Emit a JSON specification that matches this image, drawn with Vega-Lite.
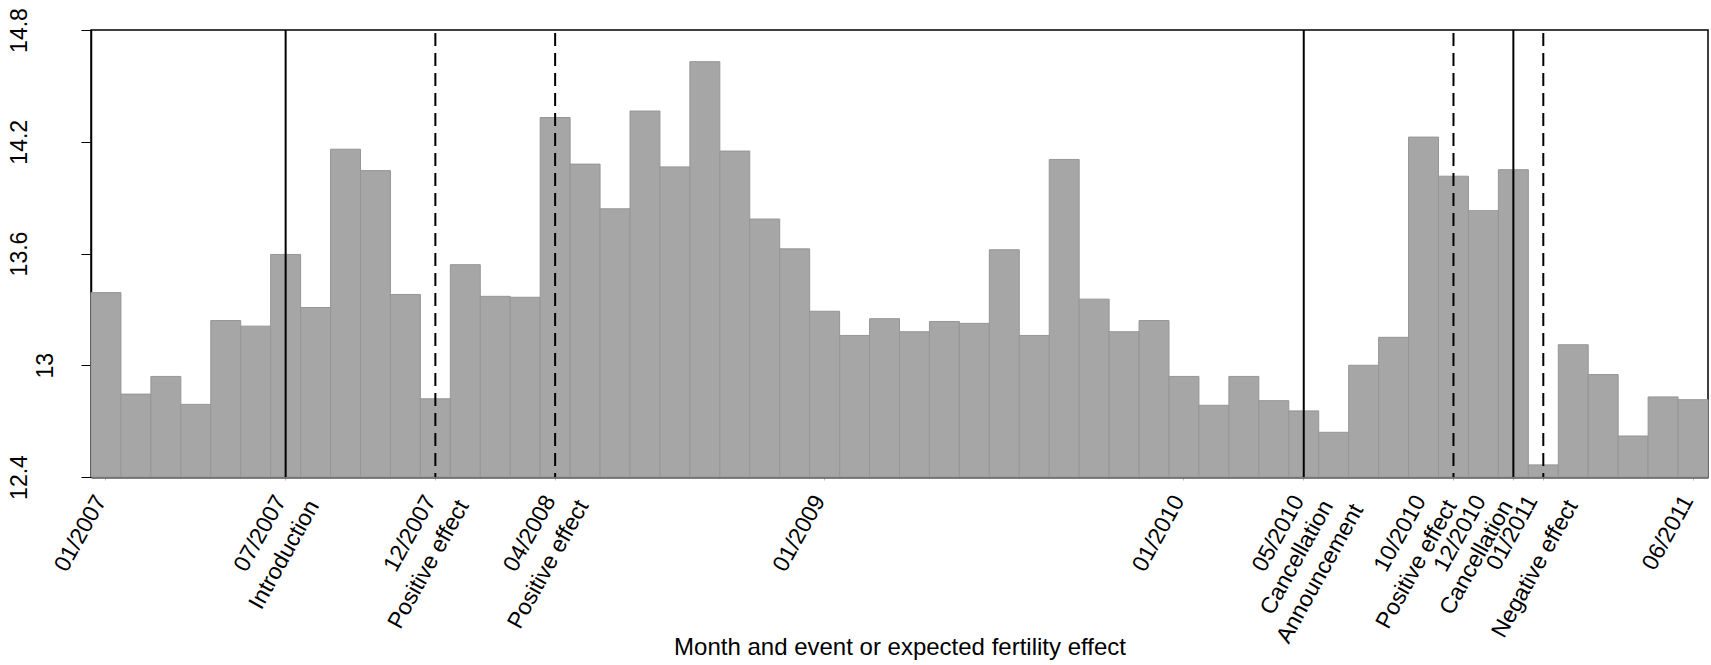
{
  "$schema": "https://vega.github.io/schema/vega-lite/v6.json",
  "width": 1617,
  "height": 447,
  "autosize": {"type": "none"},
  "padding": {"left": 91, "top": 30, "right": 3, "bottom": 188},
  "config": {
    "font": "Liberation Sans",
    "view": {"stroke": "#000000", "strokeWidth": 1.5},
    "axis": {"grid": false, "labelColor": "#000000", "titleColor": "#000000", "labelFont": "Liberation Sans", "titleFont": "Liberation Sans"}
  },
  "resolve": {"axis": {"x": "independent"}},
  "datasets": {
    "births": [
      {"month": "2007-01", "value": 13.39},
      {"month": "2007-02", "value": 12.845},
      {"month": "2007-03", "value": 12.94},
      {"month": "2007-04", "value": 12.79},
      {"month": "2007-05", "value": 13.24},
      {"month": "2007-06", "value": 13.21},
      {"month": "2007-07", "value": 13.595},
      {"month": "2007-08", "value": 13.31},
      {"month": "2007-09", "value": 14.16},
      {"month": "2007-10", "value": 14.045},
      {"month": "2007-11", "value": 13.38},
      {"month": "2007-12", "value": 12.82},
      {"month": "2008-01", "value": 13.54},
      {"month": "2008-02", "value": 13.37},
      {"month": "2008-03", "value": 13.365},
      {"month": "2008-04", "value": 14.33},
      {"month": "2008-05", "value": 14.08},
      {"month": "2008-06", "value": 13.84},
      {"month": "2008-07", "value": 14.365},
      {"month": "2008-08", "value": 14.065},
      {"month": "2008-09", "value": 14.63},
      {"month": "2008-10", "value": 14.15},
      {"month": "2008-11", "value": 13.785},
      {"month": "2008-12", "value": 13.625},
      {"month": "2009-01", "value": 13.29},
      {"month": "2009-02", "value": 13.16},
      {"month": "2009-03", "value": 13.25},
      {"month": "2009-04", "value": 13.18},
      {"month": "2009-05", "value": 13.235},
      {"month": "2009-06", "value": 13.225},
      {"month": "2009-07", "value": 13.62},
      {"month": "2009-08", "value": 13.16},
      {"month": "2009-09", "value": 14.105},
      {"month": "2009-10", "value": 13.355},
      {"month": "2009-11", "value": 13.18},
      {"month": "2009-12", "value": 13.24},
      {"month": "2010-01", "value": 12.94},
      {"month": "2010-02", "value": 12.785},
      {"month": "2010-03", "value": 12.94},
      {"month": "2010-04", "value": 12.81},
      {"month": "2010-05", "value": 12.755},
      {"month": "2010-06", "value": 12.64},
      {"month": "2010-07", "value": 13.0},
      {"month": "2010-08", "value": 13.15},
      {"month": "2010-09", "value": 14.225},
      {"month": "2010-10", "value": 14.015},
      {"month": "2010-11", "value": 13.83},
      {"month": "2010-12", "value": 14.05},
      {"month": "2011-01", "value": 12.465},
      {"month": "2011-02", "value": 13.11},
      {"month": "2011-03", "value": 12.95},
      {"month": "2011-04", "value": 12.62},
      {"month": "2011-05", "value": 12.83},
      {"month": "2011-06", "value": 12.815}
    ],
    "events": [
      {"month": "2007-07", "kind": "solid"},
      {"month": "2007-12", "kind": "dashed"},
      {"month": "2008-04", "kind": "dashed"},
      {"month": "2010-05", "kind": "solid"},
      {"month": "2010-10", "kind": "dashed"},
      {"month": "2010-12", "kind": "solid"},
      {"month": "2011-01", "kind": "dashed"}
    ]
  },
  "layer": [
    {
      "data": {"name": "births"},
      "mark": {"type": "bar", "fill": "#a6a6a6", "stroke": "#969696", "strokeWidth": 1},
      "encoding": {
        "x": {
          "field": "month",
          "type": "ordinal",
          "scale": {"paddingInner": 0, "paddingOuter": 0},
          "axis": {
            "orient": "bottom",
            "title": "Month and event or expected fertility effect",
            "titleFontSize": 24,
            "titleFontWeight": "normal",
            "titleY": 177,
            "titleBaseline": "alphabetic",
            "values": ["2007-01", "2007-07", "2007-12", "2008-04", "2009-01", "2010-01", "2010-05", "2010-10", "2010-12", "2011-01", "2011-06"],
            "labelExpr": "slice(datum.value, 5) + '/' + slice(datum.value, 0, 4)",
            "labelAngle": -61,
            "labelAlign": "right",
            "labelBaseline": "alphabetic",
            "labelFontSize": 23,
            "labelPadding": 20,
            "labelOffset": {"condition": [{"test": "datum.value == '2010-10' || datum.value == '2010-12'", "value": -27}, {"test": "datum.value == '2011-01'", "value": -5}], "value": 1},
            "labelOverlap": false,
            "labelBound": false,
            "labelFlush": false,
            "domainColor": "#555555",
            "domainWidth": 2.5,
            "tickSize": 3,
            "tickColor": "#bbbbbb"
          }
        },
        "y": {
          "field": "value",
          "type": "quantitative",
          "scale": {"domain": [12.4, 14.8], "zero": false, "nice": false},
          "axis": {
            "title": null,
            "values": [12.4, 13, 13.6, 14.2, 14.8],
            "format": "~g",
            "labelAngle": -90,
            "labelAlign": "center",
            "labelBaseline": "alphabetic",
            "labelFontSize": 23,
            "labelPadding": {"condition": {"test": "datum.value == 13", "value": 29}, "value": 55},
            "labelOverlap": false,
            "labelBound": false,
            "labelFlush": false,
            "domainColor": "#000000",
            "domainWidth": 1.5,
            "tickColor": "#000000",
            "tickSize": 10,
            "tickWidth": 1
          }
        },
        "y2": {"datum": 12.4}
      }
    },
    {
      "data": {"name": "events"},
      "transform": [{"filter": "datum.kind == 'solid'"}],
      "mark": {"type": "rule", "color": "#000000", "strokeWidth": 2},
      "encoding": {
        "x": {
          "field": "month",
          "type": "ordinal",
          "axis": {
            "orient": "bottom",
            "title": null,
            "domain": false,
            "ticks": false,
            "values": ["2007-07", "2007-12", "2008-04", "2010-05", "2010-10", "2010-12", "2011-01"],
            "labelExpr": "datum.value=='2007-07'?'Introduction':datum.value=='2007-12'?'Positive effect':datum.value=='2008-04'?'Positive effect':datum.value=='2010-05'?'Cancellation':datum.value=='2010-10'?'Positive effect':datum.value=='2010-12'?'Cancellation':datum.value=='2011-01'?'Negative effect':''",
            "labelAngle": -61,
            "labelAlign": "right",
            "labelBaseline": "alphabetic",
            "labelFontSize": 23,
            "labelPadding": 28,
            "labelOffset": {"condition": [{"test": "datum.value == '2010-10'", "value": 4}, {"test": "datum.value == '2010-12'", "value": 0}, {"test": "datum.value == '2011-01'", "value": 35}, {"test": "datum.value == '2010-05'", "value": 30}], "value": 34},
            "labelOverlap": false,
            "labelBound": false,
            "labelFlush": false
          }
        }
      }
    },
    {
      "data": {"name": "events"},
      "transform": [{"filter": "datum.kind == 'dashed'"}],
      "mark": {"type": "rule", "color": "#000000", "strokeWidth": 2, "strokeDash": [13, 7], "strokeDashOffset": 17},
      "encoding": {
        "x": {
          "field": "month",
          "type": "ordinal",
          "axis": {
            "orient": "bottom",
            "title": null,
            "domain": false,
            "ticks": false,
            "values": ["2010-05"],
            "labelExpr": "'Announcement'",
            "labelAngle": -61,
            "labelAlign": "right",
            "labelBaseline": "alphabetic",
            "labelFontSize": 23,
            "labelPadding": 32,
            "labelOffset": 60,
            "labelOverlap": false,
            "labelBound": false,
            "labelFlush": false
          }
        }
      }
    }
  ]
}
